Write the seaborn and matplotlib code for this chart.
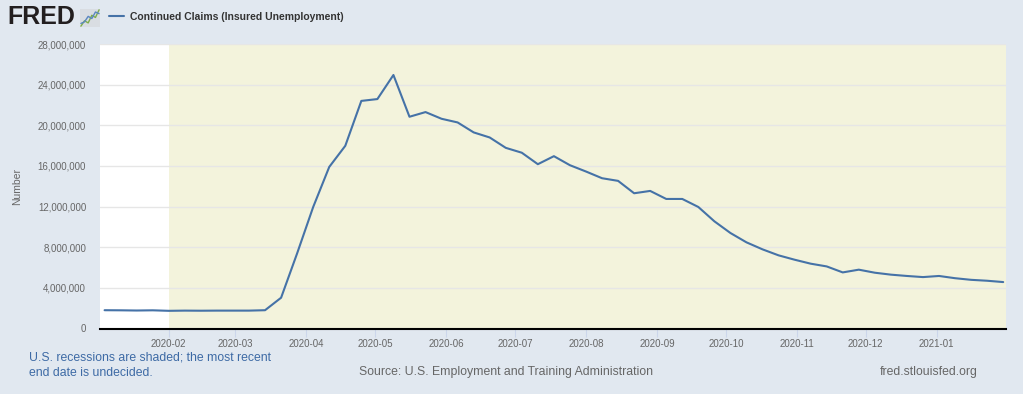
import numpy as np
import pandas as pd
import seaborn as sns
import matplotlib.pyplot as plt
import matplotlib.ticker as mticker

# weekly continued claims, thousands (week ending Saturday)
week_start = "2020-01-04"
claims_k = [1800, 1790, 1770, 1790, 1740, 1760, 1750, 1760, 1760, 1760,
            1800, 3030, 7400, 11960, 15900, 17980, 22400, 22580, 24950, 20840,
            21300, 20640, 20280, 19300, 18800, 17780, 17300, 16170, 16960, 16070,
            15450, 14790, 14530, 13310, 13540, 12750, 12750, 11960, 10550, 9400,
            8480, 7790, 7200, 6770, 6380, 6110, 5520, 5790, 5490, 5300,
            5170, 5060, 5170, 4950, 4790, 4700, 4570]
series_label = "Continued Claims (Insured Unemployment)"
recession_start = "2020-02-01"
y_ticks = [0, 4e6, 8e6, 12e6, 16e6, 20e6, 24e6, 28e6]
x_ticks = ["2020-02", "2020-03", "2020-04", "2020-05", "2020-06", "2020-07",
           "2020-08", "2020-09", "2020-10", "2020-11", "2020-12", "2021-01"]
icon_green = [1, 2, 1.6, 3, 2.6, 4]
icon_blue = [1.5, 1.8, 2.8, 2.4, 3.6, 3.3]

df = pd.DataFrame({
    "date": pd.date_range(week_start, periods=len(claims_k), freq="7D"),
    "claims": np.array(claims_k) * 1000,
})

sns.set_theme(style="white")
plt.rcParams["font.family"] = ["Liberation Sans", "DejaVu Sans"]

bg = "#e1e8f0"
fig = plt.figure(figsize=(10.23, 3.94), dpi=100, facecolor=bg)
ax = fig.add_axes([100 / 1023, 1 - 328.5 / 394, 905.5 / 1023, 284.5 / 394])
ax.set_facecolor("white")

sns.lineplot(data=df, x="date", y="claims", ax=ax, color="#4572a7",
             linewidth=1.5, label=series_label, zorder=3)

x0 = pd.Timestamp("2020-01-02")
x1 = pd.Timestamp("2021-01-31")
ax.axvspan(pd.Timestamp(recession_start), x1, color="#f3f3dc", zorder=0, lw=0)
ax.set_xlim(x0, x1)
ax.set_ylim(0, 28e6)

ax.set_yticks(y_ticks)
ax.yaxis.set_major_formatter(mticker.FuncFormatter(lambda v, p: f"{v:,.0f}"))
ax.set_xticks(pd.to_datetime(x_ticks))
ax.set_xticklabels(x_ticks)
ax.grid(axis="y", color="#e6e6e6", linewidth=1, zorder=1)
ax.set_axisbelow(True)

for s in ["top", "right", "left"]:
    ax.spines[s].set_visible(False)
ax.spines["bottom"].set_color("black")
ax.spines["bottom"].set_linewidth(1.5)
ax.spines["bottom"].set_zorder(4)

ax.tick_params(axis="y", length=0, pad=10, labelsize=7, labelcolor="#666666")
ax.tick_params(axis="x", length=5.8, width=0.8, color="#ccd6eb", direction="out",
               pad=2, labelsize=7, labelcolor="#666666", bottom=True)
ax.set_xlabel("")
ax.set_ylabel("Number", fontsize=7.5, color="#666666")
ax.yaxis.set_label_coords(-(100 - 22) / 905.5, 0.5)

# legend at the top, next to the logo
handles, labels = ax.get_legend_handles_labels()
ax.get_legend().remove()
fig.legend(handles, labels, loc="center left", frameon=False,
           bbox_to_anchor=(100 / 1023, 1 - 16.5 / 394), handlelength=1.4,
           handletextpad=0.6, prop={"size": 7.5, "weight": "bold"},
           labelcolor="#333333")

fig.text(7 / 1023, 1 - 17 / 394, "FRED", fontsize=18, fontweight="heavy",
         color="#231f20", va="center", ha="left")
icon = fig.add_axes([80 / 1023, 1 - 27 / 394, 20 / 1023, 18 / 394])
icon.set_facecolor("#d9dde2")
icon.plot(icon_green, color="#7fae4a", lw=1)
icon.plot(icon_blue, color="#5b87c0", lw=1)
icon.set_xticks([])
icon.set_yticks([])
for s in icon.spines.values():
    s.set_visible(False)

fig.text(29 / 1023, 1 - 357.5 / 394, "U.S. recessions are shaded; the most recent",
         fontsize=8.8, color="#3d6aa5", va="center", ha="left")
fig.text(29 / 1023, 1 - 372.5 / 394, "end date is undecided.",
         fontsize=8.8, color="#3d6aa5", va="center", ha="left")
fig.text(506 / 1023, 1 - 372 / 394,
         "Source: U.S. Employment and Training Administration",
         fontsize=8.8, color="#666666", va="center", ha="center")
fig.text(978 / 1023, 1 - 372 / 394, "fred.stlouisfed.org",
         fontsize=8.8, color="#666666", va="center", ha="right")

fig.savefig("out.png", dpi=100, facecolor=bg)
